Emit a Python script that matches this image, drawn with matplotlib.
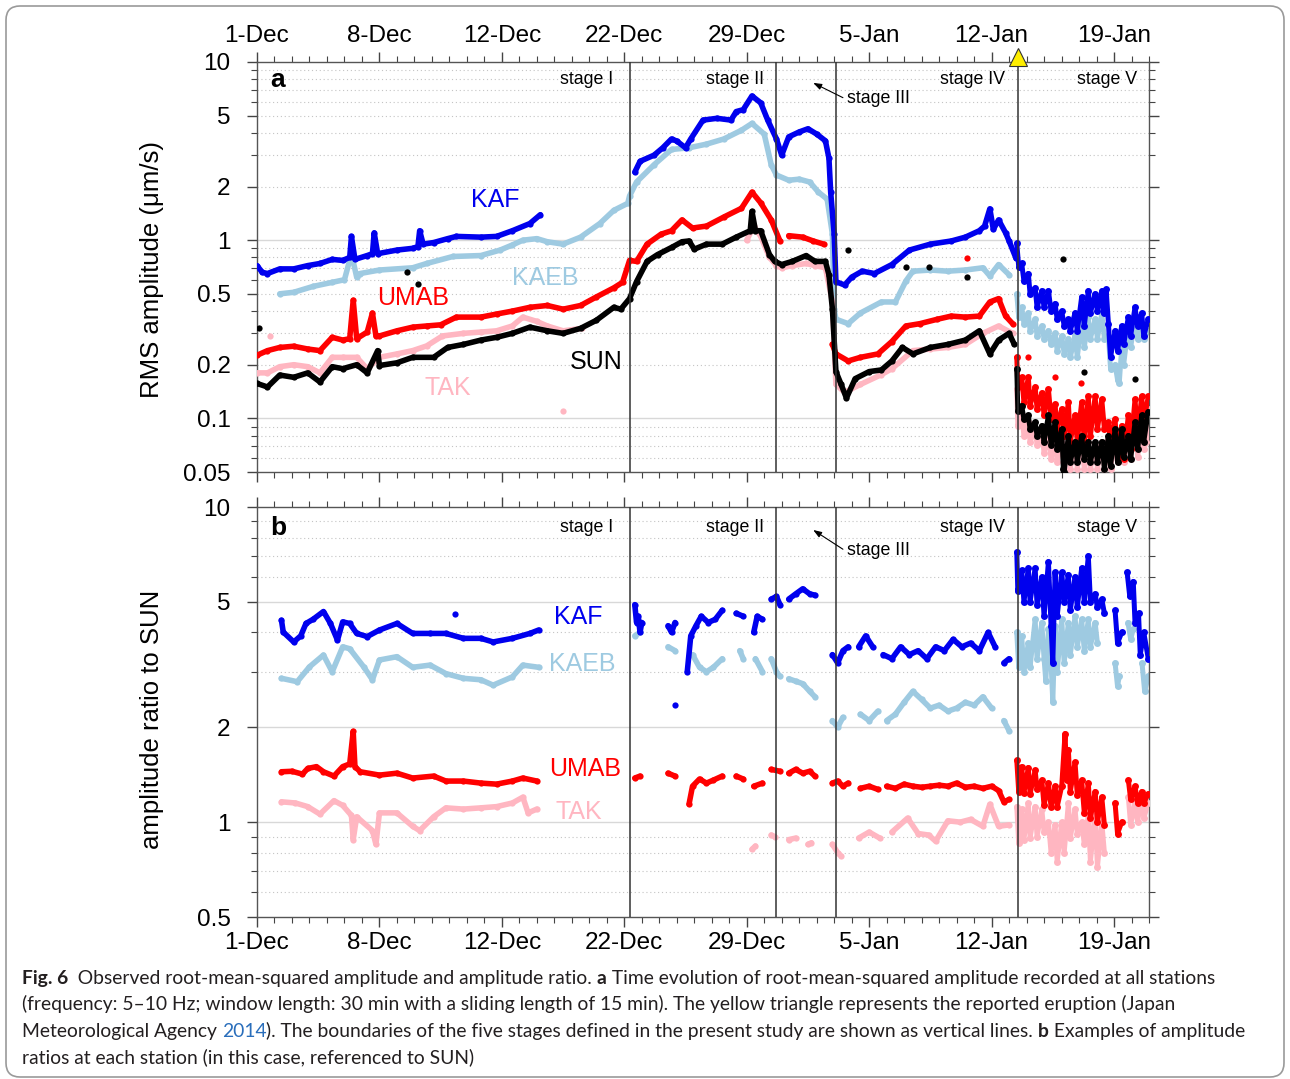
import numpy as np
import matplotlib
matplotlib.use('Agg')
import matplotlib.pyplot as plt
from matplotlib.patches import FancyBboxPatch
from matplotlib.transforms import IdentityTransform, blended_transform_factory
from matplotlib.ticker import NullFormatter

plt.rcParams['font.family'] = ['Liberation Sans', 'DejaVu Sans']

W, H = 1290, 1079
GAP = (np.nan, np.nan)

# x = days since 1 Dec (axis labels as printed in the figure)
tick_days = [0, 7, 14, 21, 28, 35, 42, 49]
tick_labels = ['1-Dec', '8-Dec', '12-Dec', '22-Dec', '29-Dec', '5-Jan', '12-Jan', '19-Jan']
stage_bounds = [21.3, 29.7, 33.1, 43.5]
eruption_day = 43.5

# ---- panel a: RMS amplitude (um/s), (day, value), stages I-IV ----
kaf_rms = [(0.0,0.72),(0.3,0.66),(0.6,0.65),(1.3,0.69),(2.1,0.69),(2.9,0.72),(3.6,0.74),(4.3,0.78),
           (4.9,0.77),(5.3,0.80),(5.4,1.05),(5.6,0.78),(6.3,0.82),(6.6,0.84),(6.7,1.10),(6.9,0.84),
           (8.0,0.88),(8.9,0.90),(9.2,0.92),(9.3,1.13),(9.5,0.95),(10.1,0.97),(10.9,1.02),(11.4,1.05),
           (12.8,1.04),(13.7,1.05),(14.6,1.13),(15.6,1.24),(16.2,1.39), GAP,
           (21.6,2.41),(21.9,2.77),(22.7,3.0),(23.2,3.3),(23.7,3.7),(24.0,3.6),(24.5,3.3),(24.8,3.7),
           (25.5,4.72),(26.3,4.83),(27.1,4.72),(27.4,5.27),(27.8,5.4),(28.3,6.45),(28.8,5.9),(29.2,4.72),
           (29.7,3.7),(30.0,3.0),(30.4,3.8),(31.0,4.05),(31.5,4.22),(32.0,3.94),(32.5,3.61),(32.7,2.89),
           (32.8,1.86),(33.0,1.08),(33.1,0.585),(33.6,0.56),(34.0,0.62),(34.6,0.67),(35.3,0.65),(36.3,0.73),
           (37.3,0.88),(38.5,0.95),(39.7,0.99),(40.5,1.04),(41.3,1.13),(41.6,1.2),(41.9,1.5),(42.1,1.15),
           (42.4,1.3),(42.8,1.1),(43.0,0.99),(43.4,0.79)]
kaeb_rms = [(1.3,0.50),(2.1,0.51),(3.2,0.55),(4.3,0.58),(5.0,0.60),(5.4,0.84),(5.7,0.62),(5.9,0.65),
            (7.0,0.68),(8.9,0.70),(9.7,0.74),(11.2,0.81),(12.8,0.82),(13.9,0.88),(14.6,0.94),(15.2,1.0),
            (16.0,1.02),(16.6,0.98),(17.5,0.95),(18.5,1.04),(19.6,1.24),(20.4,1.47),(21.2,1.61),(21.3,1.77),
            (21.7,2.12),(22.7,2.65),(23.7,3.23),(24.7,3.3),(25.7,3.46),(26.7,3.7),(27.7,4.14),(28.3,4.52),
            (29.0,3.94),(29.4,2.65),(29.7,2.32),(30.4,2.17),(31.0,2.2),(31.6,2.12),(32.1,1.86),(32.6,1.7),
            (32.9,1.08),(33.0,0.41),(33.1,0.36),(33.8,0.34),(34.5,0.39),(35.7,0.45),(36.5,0.45),(37.1,0.59),
            (37.5,0.67),(38.5,0.68),(39.5,0.67),(40.5,0.68),(41.5,0.70),(41.9,0.63),(42.4,0.73),(43.0,0.64)]
umab_rms = [(0.0,0.226),(0.6,0.24),(1.3,0.25),(2.1,0.254),(2.9,0.245),(3.6,0.24),(4.3,0.285),(4.9,0.275),
            (5.3,0.28),(5.5,0.46),(5.7,0.28),(6.3,0.305),(6.6,0.39),(6.8,0.29),(7.0,0.29),(8.0,0.31),
            (8.9,0.325),(9.7,0.33),(10.5,0.335),(11.4,0.37),(12.8,0.37),(13.7,0.385),(14.6,0.40),(15.6,0.42),
            (16.6,0.43),(17.5,0.41),(18.5,0.43),(19.4,0.48),(20.4,0.54),(20.9,0.58),(21.3,0.77),(21.7,0.76),
            (22.3,0.95),(23.1,1.08),(23.7,1.13),(24.3,1.3),(24.9,1.17),(25.7,1.2),(26.7,1.35),(27.7,1.51),
            (28.3,1.86),(28.8,1.62),(29.4,1.30),(29.9,0.99), GAP,
            (30.4,1.06),(31.2,1.04),(31.8,0.99),(32.4,0.95), GAP,
            (32.9,0.26),(33.1,0.23),(33.8,0.21),(34.5,0.22),(35.5,0.23),(36.3,0.27),(37.1,0.33),(37.9,0.34),
            (38.9,0.36),(39.7,0.375),(40.5,0.37),(41.3,0.375),(41.9,0.45),(42.4,0.47),(42.8,0.375),(43.2,0.34)]
sun_rms = [(0.0,0.157),(0.6,0.15),(1.3,0.175),(2.1,0.17),(2.9,0.18),(3.6,0.16),(4.3,0.195),(4.9,0.19),
           (5.7,0.20),(6.3,0.18),(6.9,0.24),(7.0,0.198),(8.0,0.205),(8.9,0.22),(10.1,0.22),(10.9,0.25),
           (11.8,0.26),(12.8,0.275),(13.7,0.285),(14.6,0.30),(15.6,0.325),(16.6,0.31),(17.5,0.30),(18.5,0.32),
           (19.4,0.355),(20.4,0.42),(20.8,0.41),(21.3,0.47),(21.7,0.585),(22.3,0.76),(22.9,0.83),(23.7,0.91),
           (24.3,0.98),(24.7,0.99),(25.0,0.89),(25.7,0.95),(26.6,0.95),(27.4,1.04),(28.2,1.13),(28.3,1.45),
           (28.5,1.13),(28.8,1.13),(29.3,0.83),(29.6,0.76),(30.0,0.73),(30.6,0.76),(31.4,0.82),(31.9,0.76),
           (32.5,0.76),(32.7,0.64),(32.9,0.41),(33.1,0.183),(33.4,0.155),(33.7,0.13),(34.2,0.167),(35.0,0.183),
           (35.7,0.187),(36.3,0.21),(36.9,0.25),(37.5,0.23),(38.5,0.25),(39.5,0.26),(40.5,0.275),(41.3,0.31),
           (41.9,0.23),(42.4,0.275),(43.0,0.30),(43.3,0.26)]
tak_rms = [(0.0,0.18),(0.6,0.18),(1.3,0.195),(2.1,0.20),(2.9,0.195),(3.6,0.18),(4.3,0.22),(4.9,0.22),
           (5.7,0.22),(6.3,0.19),(7.0,0.22),(8.0,0.23),(8.9,0.24),(9.7,0.255),(10.6,0.29),(11.8,0.30),
           (12.8,0.305),(13.7,0.31),(14.6,0.33),(15.2,0.37),(16.0,0.35),(16.6,0.33),(17.5,0.31),(18.6,0.32), GAP,
           (28.0,1.0),(28.4,1.2),(28.8,1.05),(29.3,0.80),(29.7,0.72),(30.0,0.70),(30.6,0.72),(31.4,0.74),
           (31.9,0.72),(32.5,0.70),(32.9,0.45),(33.1,0.155),(33.6,0.14),(34.5,0.155),(35.7,0.176),(36.3,0.19),
           (37.5,0.24),(38.5,0.245),(39.5,0.25),(40.5,0.26),(41.5,0.30),(42.4,0.33),(43.2,0.30)]

# stage V scatter (upper / lower edges of each cloud, read alternately)
kaf_rms_v = [(43.44,0.96),(43.55,0.71),(43.72,0.74),(43.85,0.59),(44.1,0.65),(44.2,0.50),(44.49,0.54),(44.6,0.42),
             (44.87,0.52),(45.0,0.42),(45.25,0.52),(45.4,0.40),(45.63,0.44),(45.75,0.36),(46.01,0.40),(46.15,0.33),
             (46.39,0.36),(46.5,0.31),(46.77,0.39),(46.9,0.31),(47.15,0.48),(47.3,0.33),(47.53,0.52),(47.65,0.39),
             (47.92,0.50),(48.05,0.40),(48.3,0.52),(48.4,0.39),(48.55,0.53),(48.68,0.34),(48.8,0.22),(49.06,0.31),
             (49.2,0.24),(49.44,0.33),(49.55,0.26),(49.82,0.37),(49.95,0.29),(50.2,0.42),(50.35,0.33),(50.58,0.39),
             (50.7,0.29),(50.96,0.36)]
kaeb_rms_v = [(43.44,0.50),(43.55,0.37),(43.72,0.42),(43.85,0.34),(44.1,0.39),(44.2,0.31),(44.49,0.36),(44.6,0.29),
              (44.87,0.33),(45.0,0.28),(45.25,0.31),(45.4,0.26),(45.63,0.30),(45.75,0.24),(46.01,0.29),(46.15,0.23),
              (46.39,0.28),(46.5,0.22),(46.77,0.29),(46.9,0.22),(47.15,0.36),(47.3,0.25),(47.53,0.37),(47.65,0.28),
              (47.92,0.36),(48.05,0.28),(48.3,0.39),(48.45,0.28),(48.68,0.29),(48.8,0.19),(49.06,0.20),(49.2,0.165),
              (49.3,0.158),(49.44,0.25),(49.55,0.20),(49.82,0.33),(49.95,0.25),(50.2,0.36),(50.35,0.28),(50.58,0.34),
              (50.7,0.28),(50.96,0.31)]
umab_rms_v = [(43.44,0.22),(43.5,0.15),(43.72,0.17),(43.85,0.123),(44.1,0.17),(44.2,0.118),(44.49,0.15),(44.6,0.113),
              (44.87,0.139),(45.0,0.104),(45.25,0.146),(45.4,0.099),(45.63,0.12),(45.75,0.087),(46.01,0.113),
              (46.15,0.080),(46.39,0.123),(46.5,0.074),(46.77,0.104),(46.9,0.074),(47.15,0.123),(47.3,0.074),
              (47.53,0.133),(47.65,0.080),(47.92,0.133),(48.05,0.087),(48.3,0.128),(48.45,0.087),(48.68,0.095),
              (48.8,0.074),(49.06,0.099),(49.2,0.061),(49.44,0.091),(49.55,0.059),(49.82,0.104),(49.95,0.067),
              (50.2,0.128),(50.35,0.08),(50.58,0.133),(50.7,0.095),(50.96,0.133)]
sun_rms_v = [(43.44,0.19),(43.5,0.11),(43.72,0.118),(43.85,0.099),(44.1,0.104),(44.2,0.087),(44.49,0.095),(44.6,0.08),
             (44.87,0.091),(45.0,0.074),(45.25,0.104),(45.4,0.071),(45.63,0.095),(45.75,0.067),(46.01,0.087),
             (46.1,0.052),(46.15,0.050),(46.39,0.080),(46.5,0.057),(46.77,0.074),(46.9,0.057),(47.15,0.080),
             (47.3,0.059),(47.53,0.074),(47.65,0.057),(47.92,0.074),(48.05,0.057),(48.3,0.074),(48.45,0.052),
             (48.68,0.080),(48.8,0.054),(49.06,0.087),(49.2,0.057),(49.44,0.087),(49.55,0.061),(49.82,0.080),
             (49.95,0.059),(50.2,0.095),(50.35,0.067),(50.58,0.104),(50.7,0.074),(50.96,0.109)]
tak_rms_v = [(43.44,0.146),(43.5,0.091),(43.72,0.104),(43.85,0.080),(44.1,0.095),(44.2,0.074),(44.49,0.087),
             (44.6,0.071),(44.87,0.083),(45.0,0.064),(45.25,0.080),(45.4,0.059),(45.63,0.077),(45.75,0.057),
             (46.01,0.074),(46.15,0.057),(46.39,0.071),(46.5,0.052),(46.77,0.074),(46.9,0.052),(47.15,0.074),
             (47.3,0.052),(47.53,0.074),(47.65,0.052),(47.92,0.071),(48.05,0.052),(48.3,0.074),(48.45,0.052),
             (48.68,0.077),(48.8,0.052),(49.06,0.077),(49.2,0.057),(49.44,0.083),(49.55,0.057),(49.82,0.087),
             (49.95,0.059),(50.2,0.095),(50.35,0.061),(50.58,0.104),(50.7,0.067),(50.85,0.074),(50.96,0.113)]
sun_rms_odd = [(0.1,0.32),(8.6,0.66),(9.2,0.57),(33.8,0.88),(37.1,0.71),(38.4,0.71),(40.6,0.62),
               (46.1,0.78),(47.3,0.183),(50.2,0.167)]
tak_rms_odd = [(0.75,0.29),(17.5,0.11)]
umab_rms_odd = [(40.6,0.79),(44.1,0.22),(45.6,0.17),(47.1,0.157)]

# ---- panel b: amplitude ratio to SUN, (day, value), stages I-IV ----
kaf_ratio = [(1.4,4.37),(1.5,4.01),(2.1,3.73),(2.5,3.9),(2.8,4.27),(3.2,4.4),(3.8,4.66),(4.2,4.27),
             (4.6,3.78),(4.9,4.32),(5.3,4.27),(5.7,3.97),(6.3,3.88),(7.0,4.07),(8.0,4.27),(8.9,3.97),
             (9.9,3.97),(10.8,3.97),(11.8,3.83),(12.8,3.83),(13.5,3.73),(14.6,3.83),(15.6,3.97),(16.1,4.07), GAP,
             (21.6,4.9),(21.7,4.3),(21.8,4.5),(21.9,4.0),(22.0,4.3), GAP, (23.5,4.2),(23.7,4.0),(23.9,4.3), GAP,
             (24.6,3.0),(24.8,3.9),(25.1,4.2),(25.4,4.5),(25.8,4.3),(26.2,4.4),(26.6,4.7), GAP,
             (27.4,4.6),(27.8,4.5), GAP, (28.4,4.0),(28.6,4.5),(28.9,4.4), GAP, (29.4,5.1),(29.7,5.2),(29.9,4.9), GAP,
             (30.4,5.1),(30.8,5.3),(31.2,5.5),(31.6,5.3),(31.9,5.25), GAP,
             (32.9,3.4),(33.2,3.2),(33.5,3.5),(33.8,3.6), GAP, (34.4,3.6),(34.8,3.9),(35.2,3.6), GAP,
             (35.8,3.4),(36.3,3.3),(36.8,3.6),(37.3,3.4),(37.8,3.5),(38.3,3.3),(38.8,3.6),(39.3,3.5),
             (39.8,3.8),(40.3,3.6),(40.8,3.7),(41.3,3.5),(41.8,4.0),(42.2,3.6), GAP, (42.7,3.2),(43.0,3.3)]
kaeb_ratio = [(1.4,2.86),(2.3,2.79),(3.0,3.11),(3.8,3.39),(4.3,3.0),(4.9,3.6),(5.3,3.55),(6.1,3.11),
              (6.6,2.83),(7.0,3.27),(8.0,3.35),(8.9,3.1),(9.9,3.15),(10.8,2.96),(11.8,2.86),(12.8,2.83),
              (13.5,2.72),(14.6,2.89),(15.2,3.15),(16.1,3.1), GAP,
              (21.6,3.9),(21.9,4.0), GAP, (23.5,3.6),(23.9,3.5), GAP,
              (24.9,3.4),(25.3,3.1),(25.7,3.0),(26.1,3.1),(26.6,3.3), GAP, (27.6,3.5),(27.8,3.3), GAP,
              (28.5,3.3),(28.9,3.0), GAP, (29.4,3.3),(29.7,3.0),(29.9,2.9), GAP,
              (30.4,2.85),(30.8,2.8),(31.2,2.75),(31.6,2.6),(31.9,2.5), GAP,
              (32.9,2.1),(33.2,2.0),(33.5,2.15), GAP, (34.5,2.2),(35.0,2.1),(35.5,2.25), GAP,
              (36.0,2.1),(36.5,2.2),(37.0,2.4),(37.5,2.6),(38.0,2.45),(38.5,2.3),(39.0,2.35),(39.5,2.25),
              (40.0,2.3),(40.5,2.4),(41.0,2.35),(41.5,2.5),(42.0,2.3), GAP, (42.7,2.1),(43.0,1.95)]
umab_ratio = [(1.4,1.445),(2.0,1.45),(2.6,1.42),(2.9,1.48),(3.4,1.5),(3.8,1.445),(4.4,1.40),(4.9,1.50),
              (5.3,1.53),(5.5,1.94),(5.6,1.5),(5.9,1.445),(7.0,1.41),(8.0,1.43),(8.9,1.38),(10.1,1.40),
              (10.8,1.35),(11.8,1.35),(12.8,1.33),(13.7,1.32),(14.6,1.35),(15.2,1.38),(16.0,1.35), GAP,
              (21.6,1.38),(21.9,1.40), GAP, (23.5,1.43),(23.9,1.40), GAP,
              (24.7,1.14),(24.9,1.30),(25.3,1.37),(25.7,1.33),(26.1,1.36),(26.6,1.40), GAP,
              (27.4,1.40),(27.8,1.37), GAP, (28.4,1.3),(28.9,1.33), GAP, (29.4,1.47),(29.9,1.45), GAP,
              (30.4,1.43),(30.8,1.47),(31.2,1.43),(31.6,1.45),(31.9,1.40), GAP,
              (32.9,1.33),(33.2,1.35),(33.5,1.30),(33.8,1.33), GAP, (34.5,1.28),(35.0,1.30),(35.5,1.27), GAP,
              (36.0,1.30),(36.5,1.28),(37.0,1.32),(37.5,1.30),(38.0,1.29),(38.5,1.30),(39.0,1.31),(39.5,1.30),
              (40.0,1.33),(40.5,1.29),(41.0,1.30),(41.5,1.28),(42.0,1.30),(42.4,1.26),(42.7,1.16),(43.0,1.18)]
tak_ratio = [(1.4,1.16),(2.2,1.15),(2.9,1.12),(3.6,1.06),(4.4,1.17),(4.9,1.13),(5.4,1.05),(5.5,0.88),
             (5.7,1.04),(6.6,0.94),(6.8,0.85),(7.0,1.07),(8.0,1.07),(8.9,0.97),(9.3,0.94),(10.1,1.04),
             (10.8,1.11),(11.8,1.10),(12.8,1.11),(13.7,1.12),(14.6,1.15),(15.2,1.20),(15.5,1.07),(16.0,1.10), GAP,
             (28.3,0.82),(28.5,0.84), GAP, (29.4,0.91),(29.6,0.90), GAP, (30.4,0.88),(30.8,0.89), GAP,
             (31.5,0.85),(31.7,0.86), GAP, (32.9,0.85),(33.2,0.80),(33.4,0.78), GAP,
             (34.4,0.89),(35.0,0.93),(35.6,0.89), GAP,
             (36.3,0.93),(37.2,1.03),(37.8,0.92),(38.4,0.91),(38.8,0.87),(39.5,1.01),(40.2,1.00),(40.8,1.02),
             (41.5,0.97),(41.9,1.14),(42.4,0.97),(43.0,0.98)]

# stage V ratio scatter (upper / lower edges, read alternately)
kaf_ratio_v = [(43.44,7.2),(43.5,5.4),(43.72,6.3),(43.85,5.0),(44.1,6.4),(44.2,5.0),(44.49,6.4),(44.6,4.9),
               (44.87,6.0),(45.0,4.5),(45.25,6.7),(45.4,4.2),(45.5,3.2),(45.63,6.2),(45.75,4.5),(46.01,6.2),
               (46.15,5.0),(46.39,6.1),(46.5,4.7),(46.77,6.0),(46.9,4.8),(47.15,6.4),(47.3,5.0),(47.53,7.0),
               (47.65,5.0),(47.92,5.3),(48.05,4.8),(48.3,5.1),(48.45,4.6), GAP, (49.06,4.7),(49.2,3.7),(49.44,4.0), GAP,
               (49.75,6.2),(49.9,5.2),(50.1,5.8),(50.2,4.3),(50.4,4.6),(50.5,3.4),(50.7,4.0),(50.96,3.3)]
kaeb_ratio_v = [(43.44,4.0),(43.55,3.1),(43.72,3.9),(43.85,3.0),(44.1,3.7),(44.2,3.1),(44.49,4.4),(44.6,3.3),
                (44.87,4.3),(45.0,3.3),(45.1,2.8),(45.25,4.1),(45.4,3.2),(45.5,2.4),(45.63,4.2),(45.75,3.0),
                (46.01,4.4),(46.15,3.2),(46.39,4.3),(46.5,3.4),(46.77,4.5),(46.9,3.6),(47.15,4.4),(47.3,3.5),
                (47.53,4.4),(47.65,3.6),(47.92,4.3),(48.05,3.7), GAP, (49.06,3.2),(49.2,2.7),(49.3,2.9), GAP,
                (49.8,4.3),(49.95,3.8),(50.1,4.1), GAP, (50.6,3.2),(50.75,2.6),(50.96,2.9)]
umab_ratio_v = [(43.44,1.57),(43.55,1.25),(43.72,1.5),(43.85,1.24),(44.1,1.49),(44.2,1.23),(44.49,1.46),(44.6,1.27),
                (44.87,1.36),(45.0,1.13),(45.25,1.33),(45.4,1.12),(45.63,1.30),(45.75,1.12),(46.01,1.30),(46.2,1.91),
                (46.3,1.36),(46.39,1.70),(46.5,1.25),(46.77,1.55),(46.9,1.22),(47.15,1.36),(47.3,1.07),(47.53,1.33),
                (47.65,1.03),(47.92,1.25),(48.05,1.0),(48.3,1.20),(48.45,0.98), GAP, (49.06,1.15),(49.2,0.92),(49.44,1.0), GAP,
                (49.82,1.36),(49.95,1.18),(50.2,1.30),(50.35,1.15),(50.58,1.25),(50.7,1.15),(50.96,1.23)]
tak_ratio_v = [(43.44,1.12),(43.55,0.86),(43.72,1.10),(43.85,0.88),(44.1,1.15),(44.2,0.89),(44.49,1.12),(44.6,0.90),
               (44.87,1.10),(45.0,0.93),(45.25,1.00),(45.4,0.80),(45.63,0.98),(45.75,0.75),(46.01,1.00),(46.15,0.80),
               (46.39,1.15),(46.5,0.89),(46.77,1.10),(46.9,0.92),(47.15,1.00),(47.3,0.85),(47.53,1.05),(47.65,0.75),
               (47.92,1.07),(48.05,0.72),(48.3,1.00),(48.45,0.80), GAP,
               (49.82,1.20),(49.95,0.98),(50.2,1.15),(50.35,1.0),(50.58,1.23),(50.7,1.03),(50.96,1.15)]
kaf_ratio_odd = [(11.3,4.57),(23.9,2.35)]

C_KAF, C_KAEB, C_UMAB, C_TAK, C_SUN = '#0000ee', '#9ecae1', '#ff0000', '#ffb6c1', '#000000'


def xy(pairs):
    a = np.array(pairs, dtype=float)
    return a[:, 0], a[:, 1]


def draw(ax, pairs, color, z, lw=4.0, ms=4.5):
    x, y = xy(pairs)
    ax.plot(x, y, color=color, lw=lw, marker='o', ms=ms, mew=0,
            solid_joinstyle='round', solid_capstyle='round', zorder=z)


def dots(ax, pairs, color, z):
    x, y = xy(pairs)
    ax.plot(x, y, ls='none', color=color, marker='o', ms=4.5, mew=0, zorder=z)


def style(ax, lo, hi, majors, major_lbls, minors, solid, dotted, labeltop):
    ax.set_yscale('log')
    ax.set_xlim(0, 51)
    ax.set_ylim(lo, hi)
    ax.set_xticks(tick_days)
    ax.set_xticklabels(tick_labels)
    ax.set_xticks(range(0, 52), minor=True)
    ax.set_yticks(majors)
    ax.set_yticklabels(major_lbls)
    ax.set_yticks(minors, minor=True)
    ax.yaxis.set_minor_formatter(NullFormatter())
    ax.tick_params(which='both', direction='out', top=True, bottom=True, left=True, right=True,
                   color='#444444')
    ax.tick_params(which='major', length=7, width=1.0, labelsize=17.5)
    ax.tick_params(which='minor', length=4, width=0.8)
    ax.tick_params(axis='x', labeltop=labeltop, labelbottom=not labeltop, pad=4)
    ax.tick_params(axis='y', pad=12)
    for s in ax.spines.values():
        s.set_color('#555555')
        s.set_linewidth(1.0)
    for v in solid:
        ax.axhline(v, color='#d8d8d8', lw=1.0, zorder=0)
    for v in dotted:
        ax.axhline(v, color='#c4c4c4', lw=0.8, ls=(0, (1, 2.5)), zorder=0)
    for d in stage_bounds:
        ax.axvline(d, color='#333333', lw=1.1, zorder=7)


fig = plt.figure(figsize=(W / 100, H / 100), dpi=100)

frame = FancyBboxPatch((6, 2), 1278, 1071, boxstyle='round,pad=0,rounding_size=14',
                       transform=IdentityTransform(), fc='none', ec='#9a9a9a', lw=1.2)
fig.add_artist(frame)

axa = fig.add_axes([257 / W, 1 - 472 / H, 892 / W, 410 / H])
axb = fig.add_axes([257 / W, 1 - 917 / H, 892 / W, 410 / H])

style(axa, 0.05, 10, [0.05, 0.1, 0.2, 0.5, 1, 2, 5, 10],
      ['0.05', '0.1', '0.2', '0.5', '1', '2', '5', '10'],
      [0.06, 0.07, 0.08, 0.09, 0.3, 0.4, 0.6, 0.7, 0.8, 0.9, 3, 4, 6, 7, 8, 9],
      [0.1, 1],
      [0.06, 0.07, 0.08, 0.09, 0.2, 0.3, 0.4, 0.5, 0.6, 0.7, 0.8, 0.9, 2, 3, 4, 5, 6, 7, 8, 9],
      True)
style(axb, 0.5, 10, [0.5, 1, 2, 5, 10], ['0.5', '1', '2', '5', '10'],
      [0.6, 0.7, 0.8, 0.9, 3, 4, 6, 7, 8, 9],
      [1, 2, 5],
      [0.6, 0.7, 0.8, 0.9, 3, 4, 6, 7, 8, 9],
      False)

# panel a series
for main, cloud, c, z in [(kaeb_rms, kaeb_rms_v, C_KAEB, 2), (kaf_rms, kaf_rms_v, C_KAF, 3),
                          (tak_rms, tak_rms_v, C_TAK, 4), (umab_rms, umab_rms_v, C_UMAB, 5),
                          (sun_rms, sun_rms_v, C_SUN, 6)]:
    draw(axa, main, c, z)
    draw(axa, cloud, c, z, lw=3.6, ms=5)
dots(axa, sun_rms_odd, C_SUN, 6)
dots(axa, tak_rms_odd, C_TAK, 4)
dots(axa, umab_rms_odd, C_UMAB, 5)

# panel b series
for main, cloud, c, z in [(kaeb_ratio, kaeb_ratio_v, C_KAEB, 2), (kaf_ratio, kaf_ratio_v, C_KAF, 3),
                          (tak_ratio, tak_ratio_v, C_TAK, 4), (umab_ratio, umab_ratio_v, C_UMAB, 5)]:
    draw(axb, main, c, z)
    draw(axb, cloud, c, z, lw=3.6, ms=5)
dots(axb, kaf_ratio_odd, C_KAF, 3)

# station names
for ax, items in [(axa, [('KAF', 13.6, 1.68, C_KAF), ('KAEB', 16.5, 0.61, C_KAEB),
                         ('UMAB', 8.9, 0.472, C_UMAB), ('SUN', 19.4, 0.206, C_SUN),
                         ('TAK', 10.9, 0.1475, C_TAK)]),
                  (axb, [('KAF', 18.35, 4.48, C_KAF), ('KAEB', 18.6, 3.17, C_KAEB),
                         ('UMAB', 18.75, 1.47, C_UMAB), ('TAK', 18.4, 1.08, C_TAK)])]:
    for name, d, v, c in items:
        ax.text(d, v, name, color=c, fontsize=18, ha='center', va='center', zorder=8)

# stage names and arrows
for ax, ys, y3, yh in [(axa, 0.957, 0.910, 0.949), (axb, 0.950, 0.894, 0.944)]:
    tr = blended_transform_factory(ax.transData, ax.transAxes)
    for name, d in [('stage I', 20.35), ('stage II', 29.0), ('stage IV', 42.77), ('stage V', 50.3)]:
        ax.text(d, ys, name, transform=tr, fontsize=12.8, ha='right', va='center', zorder=8)
    ax.text(33.75, y3, 'stage III', transform=tr, fontsize=12.8, ha='left', va='center', zorder=8)
    ax.annotate('', xy=(31.8, yh), xycoords=tr, xytext=(33.5, y3 + 0.003), textcoords=tr,
                arrowprops=dict(arrowstyle='-|>,head_length=0.5,head_width=0.18', color='k', lw=0.8,
                                shrinkA=0, shrinkB=0), zorder=8)

axa.text(0.015, 0.955, 'a', transform=axa.transAxes, fontsize=19, fontweight='bold', va='center')
axb.text(0.015, 0.95, 'b', transform=axb.transAxes, fontsize=19, fontweight='bold', va='center')

# eruption marker
tra = blended_transform_factory(axa.transData, axa.transAxes)
axa.plot([eruption_day], [1.012], transform=tra, marker='^', ms=13, mfc='#ffee00', mec='#333333',
         mew=0.8, clip_on=False, zorder=10)

fig.text(152 / W, 1 - 270 / H, 'RMS amplitude (μm/s)', rotation=90, fontsize=18.5, ha='center', va='center')
fig.text(152 / W, 1 - 719 / H, 'amplitude ratio to SUN', rotation=90, fontsize=18.5, ha='center', va='center')

# caption with mixed styles
cap_font = ['Lato', 'DejaVu Sans']
ink = '#231f20'
cap_lines = [
    [('Fig. 6', 'bold', ink), ('  Observed root-mean-squared amplitude and amplitude ratio. ', 'normal', ink),
     ('a', 'bold', ink), (' Time evolution of root-mean-squared amplitude recorded at all stations', 'normal', ink)],
    [('(frequency: 5–10 Hz; window length: 30 min with a sliding length of 15 min). The yellow triangle represents the reported eruption (Japan', 'normal', ink)],
    [('Meteorological Agency ', 'normal', ink), ('2014', 'normal', '#2a6ebb'),
     ('). The boundaries of the five stages defined in the present study are shown as vertical lines. ', 'normal', ink),
     ('b', 'bold', ink), (' Examples of amplitude', 'normal', ink)],
    [('ratios at each station (in this case, referenced to SUN)', 'normal', ink)],
]
cap_base = [984, 1010, 1037, 1063]

renderer = fig.canvas.get_renderer()


def text_width(s, size, weight):
    t1 = fig.text(0, 0, '|' + s + '|', fontsize=size, fontweight=weight, family=cap_font)
    t2 = fig.text(0, 0, '||', fontsize=size, fontweight=weight, family=cap_font)
    w = t1.get_window_extent(renderer).width - t2.get_window_extent(renderer).width
    t1.remove()
    t2.remove()
    return w


ref_size = 12
w3 = sum(text_width(s, ref_size, wt) for s, wt, c in cap_lines[2])
cap_size = ref_size * (1245 - 22) / w3

for parts, yb in zip(cap_lines, cap_base):
    x = 22
    for s, wt, c in parts:
        fig.text(x, H - yb, s, fontsize=cap_size, fontweight=wt, color=c, family=cap_font,
                 transform=IdentityTransform(), ha='left', va='baseline')
        x += text_width(s, cap_size, wt)

fig.savefig('out.png', dpi=100)
